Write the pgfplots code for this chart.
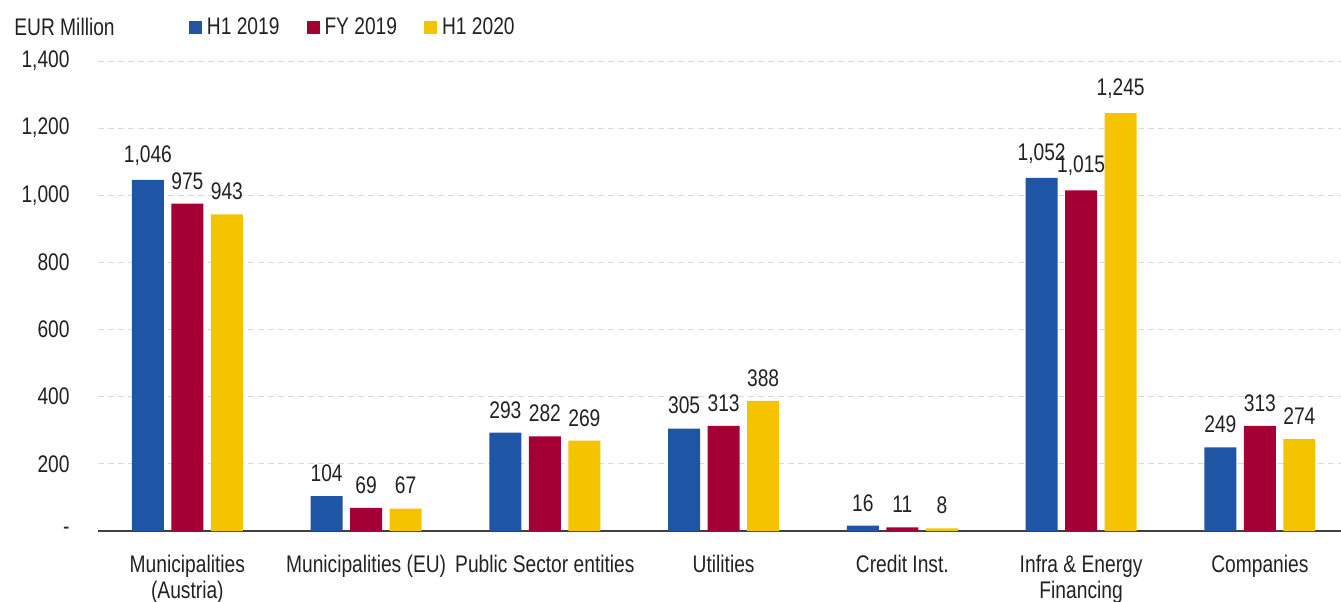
\documentclass[border=0pt]{standalone}
\usepackage{pgfplots}
\pgfplotsset{compat=1.18}
\usepackage{fontspec}
\setmainfont{Liberation Sans}[FakeStretch=0.8]
\usetikzlibrary{calc}
\definecolor{hblue}{HTML}{1F55A5}
\definecolor{fred}{HTML}{A50034}
\definecolor{hyel}{HTML}{F5C400}
\definecolor{txt}{HTML}{222222}
\begin{document}
\begin{tikzpicture}
\begin{axis}[
  scale only axis,
  width=621.5pt, height=235pt,
  ybar=3.75pt, bar width=16pt,
  xmin=-0.5, xmax=6.454,
  ymin=0, ymax=1400,
  xtick={0,1,2,3,4,5,6},
  xticklabels={{Municipalities\\(Austria)},{Municipalities (EU)},{Public Sector entities},{Utilities},{Credit Inst.},{Infra \& Energy\\Financing},{Companies}},
  ytick={0,200,...,1400},
  yticklabels={-,200,400,600,800,{1,000},{1,200},{1,400}},
  major tick length=0pt,
  axis x line*=bottom, axis y line*=left,
  x axis line style={draw=black!75, line width=0.8pt},
  y axis line style={draw=none},
  ymajorgrids, grid style={densely dashed, draw=black!15, line width=0.5pt},
  tick label style={font=\fontsize{12}{13}\selectfont, text=txt},
  xticklabel style={inner sep=0pt, anchor=north, yshift=-12pt, align=center},
  yticklabel style={inner sep=0pt, anchor=east, xshift=-14pt},
  nodes near coords,
  every node near coord/.append style={font=\fontsize{12}{13}\selectfont, text=txt, inner sep=0pt, anchor=south, yshift=7pt,
    /pgf/number format/1000 sep={,}},
  /pgf/number format/assume math mode=true,
  legend columns=-1,
  legend style={draw=none, fill=none, at={(rel axis cs:0.068,1.072)}, anchor=west,
    font=\fontsize{12}{13}\selectfont, text=txt,
    /tikz/every even column/.append style={column sep=11pt},
    nodes={inner sep=2.5pt}},
  legend image code/.code={\fill[#1] (0pt,-3.25pt) rectangle (6.5pt,3.25pt);},
]
\addplot[fill=hblue, draw=none] coordinates {(0,1046) (1,104) (2,293) (3,305) (4,16) (5,1052) (6,249)};
\addplot[fill=fred, draw=none] coordinates {(0,975) (1,69) (2,282) (3,313) (4,11) (5,1015) (6,313)};
\addplot[fill=hyel, draw=none] coordinates {(0,943) (1,67) (2,269) (3,388) (4,8) (5,1245) (6,274)};
\legend{H1 2019, FY 2019, H1 2020}
\coordinate (bl) at (rel axis cs:0,0);
\coordinate (tr) at (rel axis cs:1,1);
\end{axis}
\node[anchor=west, inner sep=0pt, font=\fontsize{12}{13}\selectfont, text=txt] at ($(bl|-tr)+(-42pt,17pt)$) {EUR Million};
\pgfresetboundingbox
\useasboundingbox ($(bl)+(-49pt,-35pt)$) rectangle ($(tr)+(0pt,30.5pt)$);
\end{tikzpicture}
\end{document}
